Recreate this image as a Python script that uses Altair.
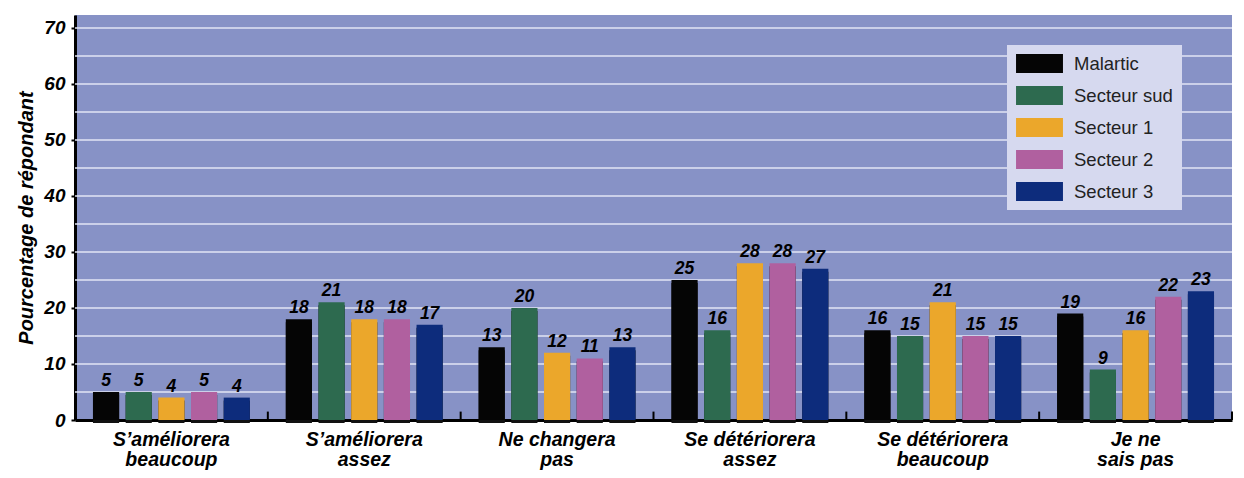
import altair as alt
import pandas as pd

categories = [
    "S’améliorera\nbeaucoup",
    "S’améliorera\nassez",
    "Ne changera\npas",
    "Se détériorera\nassez",
    "Se détériorera\nbeaucoup",
    "Je ne\nsais pas",
]
series = ["Malartic", "Secteur sud", "Secteur 1", "Secteur 2", "Secteur 3"]
malartic = [5, 18, 13, 25, 16, 19]
secteur_sud = [5, 21, 20, 16, 15, 9]
secteur_1 = [4, 18, 12, 28, 21, 16]
secteur_2 = [5, 18, 11, 28, 15, 22]
secteur_3 = [4, 17, 13, 27, 15, 23]
colors = ["#050505", "#2D6A4F", "#EBA72B", "#B0609F", "#0D2C7C"]
y_ticks = list(range(0, 75, 5))
grid_values = list(range(5, 75, 5))

rows = []
for name, vals in zip(series, [malartic, secteur_sud, secteur_1, secteur_2, secteur_3]):
    for c, v in zip(categories, vals):
        rows.append({"cat": c, "serie": name, "val": v})
df = pd.DataFrame(rows)
sep = pd.DataFrame({"cat": categories})
grid = pd.DataFrame({"val": grid_values})

FONT = "Liberation Sans"

x_enc = alt.X(
    "cat:N",
    sort=categories,
    scale=alt.Scale(paddingInner=0, paddingOuter=0),
    axis=alt.Axis(
        title=None,
        labelExpr="split(datum.label, '\\n')",
        labelAngle=0,
        labelFont=FONT,
        labelFontSize=19.5,
        labelFontWeight="bold",
        labelFontStyle="italic",
        labelColor="#000000",
        labelPadding=10,
        labelLineHeight=20,
        ticks=False,
        domainColor="#000000",
        domainWidth=3,
    ),
)
xoff = alt.XOffset(
    "serie:N", sort=series, scale=alt.Scale(paddingInner=0.2, paddingOuter=0.55)
)
y_scale = alt.Scale(domain=[0, 72.3], nice=False)
y_enc = alt.Y(
    "val:Q",
    scale=y_scale,
    axis=alt.Axis(
        values=y_ticks,
        labelExpr="datum.value % 10 == 0 ? datum.label : ''",
        title="Pourcentage de répondant",
        titleFont=FONT,
        titleFontSize=20,
        titleFontWeight="bold",
        titleFontStyle="italic",
        titleColor="#000000",
        titlePadding=7,
        labelFont=FONT,
        labelFontSize=19,
        labelFontWeight="bold",
        labelFontStyle="italic",
        labelColor="#000000",
        labelPadding=6,
        tickColor="#000000",
        tickSize=4,
        tickWidth=2,
        domainColor="#000000",
        domainWidth=3,
        grid=False,
    ),
)

gridlines = alt.Chart(grid).mark_rule(color="#E2E5F5", strokeWidth=1.5).encode(
    y=alt.Y("val:Q", scale=y_scale)
)

shadow = alt.Chart(df).mark_bar(color="#111111", xOffset=3, yOffset=3, y2Offset=-3).encode(
    x=x_enc, xOffset=xoff, y=y_enc
)

bars = alt.Chart(df).mark_bar().encode(
    x=x_enc,
    xOffset=xoff,
    y=y_enc,
    color=alt.Color(
        "serie:N",
        sort=series,
        scale=alt.Scale(domain=series, range=colors),
        legend=alt.Legend(
            title=None,
            orient="none",
            legendX=932,
            legendY=30,
            fillColor="#D6D9EF",
            padding=9,
            symbolType="M-2.47,-1H2.47V1H-2.47Z",
            symbolSize=361,
            symbolOffset=14,
            symbolStrokeWidth=0,
            symbolOpacity=1,
            rowPadding=13,
            labelFont=FONT,
            labelFontSize=18.5,
            labelColor="#222222",
            labelOffset=25,
        ),
    ),
)

labels = alt.Chart(df).mark_text(
    dy=-11, font=FONT, fontSize=17.5, fontWeight="bold", fontStyle="italic", color="#000000"
).encode(x=x_enc, xOffset=xoff, y=y_enc, text="val:Q")

seps = alt.Chart(sep).mark_rule(color="#000000", strokeWidth=2).encode(
    x=alt.X("cat:N", sort=categories, bandPosition=1),
    y=alt.datum(0),
    y2=alt.datum(1.5),
)

chart = (
    alt.layer(gridlines, shadow, bars, labels, seps)
    .properties(
        width=1157,
        height=405,
        autosize=alt.AutoSizeParams(type="none"),
        padding={"left": 67, "top": 7, "right": 4, "bottom": 50},
        background="#FFFFFF",
    )
    .configure_view(fill="#8792C6", stroke=None)
)

chart.save("out.html", embed_options={"renderer": "svg", "actions": False})
